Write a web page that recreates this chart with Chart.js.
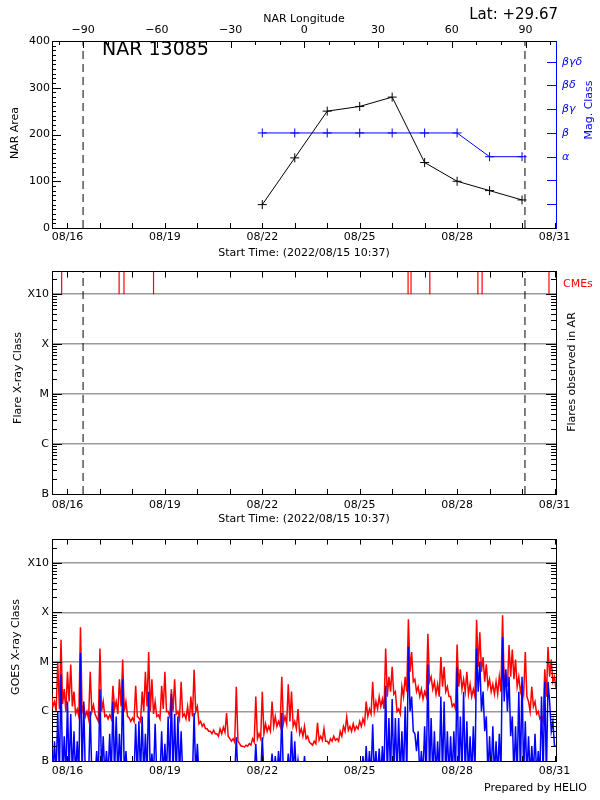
<!DOCTYPE html>
<html>
<head>
<meta charset="utf-8">
<script src="https://cdn.jsdelivr.net/npm/chart.js@4.4.1/dist/chart.umd.min.js"></script>
<style>
  body { margin: 0; background: #fff; }
  #wrap { position: relative; width: 600px; height: 800px; background: #fff; }
  canvas { position: absolute; left: 0; }
</style>
</head>
<body>
<div id="wrap">
  <canvas id="narChart" width="600" height="262" style="top:0"></canvas>
  <canvas id="flareChart" width="600" height="268" style="top:262px"></canvas>
  <canvas id="goesChart" width="600" height="270" style="top:530px"></canvas>
</div>
<script>
// time in days from 2022/08/16 00:00 UT
const tickDays = [0, 3, 6, 9, 12, 15];
const tickLabels = ['08/16', '08/19', '08/22', '08/25', '08/28', '08/31'];
const limbDays = [0.48, 14.09];
const lonTicks = [-90, -60, -30, 0, 30, 60, 90];

const narDays = [6, 7, 8, 9, 10, 11, 12, 13, 14];
const narArea = [50, 150, 250, 260, 280, 140, 100, 80, 60];
const magClass = [4, 4, 4, 4, 4, 4, 4, 3, 3];          // index into magLabels
const magLabels = ['', '', '', 'α', 'β', 'βγ', 'βδ', 'βγδ'];

const classTicks = [1e-7, 1e-6, 1e-5, 1e-4, 1e-3];
const classLabels = ['B', 'C', 'M', 'X', 'X10'];

const cmeDays = [-0.18, 1.59, 1.74, 2.65, 10.49, 10.58, 11.16, 12.64, 12.77, 14.83];

// GOES flux as decades above B level (0 = B, 1 = C, 2 = M, 3 = X)
// one slot every goesStep days from goesStart: the high value, then the low value half a slot later
const goesStart = -0.5;
const goesStep = 0.1;
const goesLongHigh = [
  1.4, 1.2, 2.0, 2.45, 1.45, 1.8, 1.95, 1.4, 1.05, 2.7,
  1.13, 1.0, 1.8, 1.13, 0.87, 2.27, 1.2, 0.93, 0.93, 1.52,
  1.2, 1.65, 2.05, 1.2, 0.87, 0.87, 1.52, 0.87, 1.4, 1.8,
  2.2, 1.65, 1.2, 0.93, 1.52, 1.8, 1.0, 1.45, 1.65, 1.0,
  1.6, 0.95, 1.1, 1.3, 1.84, 1.1, 0.8, 0.75, 0.65, 0.6,
  0.62, 0.55, 0.65, 0.68, 0.97, 0.45, 0.45, 1.5, 0.35, 0.3,
  0.32, 0.35, 0.45, 1.3, 0.55, 1.4, 0.75, 0.7, 1.2, 0.9,
  0.8, 1.7, 0.9, 1.55, 1.4, 0.8, 1.05, 0.65, 0.7,
  0.5, 0.35, 0.4, 0.77, 0.5, 0.65, 0.4, 0.45, 0.5, 0.45,
  0.6, 0.7, 0.89, 0.7, 0.75, 0.7, 0.8, 0.85, 1.2, 1.05,
  1.6, 1.2, 1.3, 1.25, 2.27, 1.7, 1.9, 1.4, 1.05, 1.5,
  1.7, 2.86, 2.2, 1.65, 1.5, 1.45, 1.4, 2.57, 1.7,
  1.6, 1.55, 2.1, 1.9, 1.5, 1.3, 1.15, 2.35, 1.85, 1.65,
  1.8, 1.55, 1.45, 2.85, 2.6, 2.1, 1.95, 1.65, 1.55, 1.6,
  1.7, 2.94, 1.75, 2.34, 2.25, 2.05, 1.7, 1.55, 2.2, 1.2,
  1.5, 1.2, 1.0, 0.9, 1.85, 2.3, 2.05, 1.7, 1.6
];
const goesLongLow = [
  1.1, 1.0, 1.05, 1.15, 1.0, 1.2, 1.1, 0.95, 0.9, 1.0,
  0.9, 0.85, 1.0, 0.95, 0.8, 1.0, 0.9, 0.85, 0.85, 1.05,
  0.95, 1.1, 1.0, 0.9, 0.8, 0.8, 0.9, 0.8, 1.0, 1.1,
  1.0, 0.95, 0.9, 0.85, 1.05, 1.0, 0.9, 1.0, 0.95, 0.85,
  0.9, 0.85, 0.8, 0.9, 1.0, 0.75, 0.7, 0.65, 0.6, 0.55,
  0.55, 0.5, 0.55, 0.58, 0.5, 0.4, 0.38, 0.4, 0.3, 0.28,
  0.3, 0.32, 0.38, 0.45, 0.45, 0.55, 0.6, 0.6, 0.7, 0.7,
  0.7, 0.75, 0.75, 0.8, 0.7, 0.65, 0.55, 0.5, 0.45,
  0.38, 0.32, 0.35, 0.42, 0.42, 0.4, 0.35, 0.4, 0.42, 0.4,
  0.5, 0.6, 0.62, 0.6, 0.62, 0.65, 0.7, 0.75, 0.9, 0.95,
  1.0, 1.05, 1.1, 1.05, 1.3, 1.4, 1.35, 1.0, 0.95, 1.3,
  1.4, 1.8, 1.6, 1.4, 1.3, 1.25, 1.3, 1.6, 1.45,
  1.35, 1.3, 1.5, 1.4, 1.3, 1.1, 1.05, 1.5, 1.45, 1.4,
  1.35, 1.3, 1.3, 1.9, 1.8, 1.6, 1.5, 1.4, 1.35, 1.35,
  1.4, 1.6, 1.5, 1.7, 1.65, 1.5, 1.4, 1.35, 1.3, 1.0,
  1.1, 0.95, 0.85, 0.8, 1.3, 1.7, 1.6, 1.45, 1.4
];
const goesShortHigh = [
  0.45, 0.4, 1.0, 1.75, 0.5, 1.2, 0.95, 0.6, 0.4, 2.18,
  1.2, -0.3, 1.0, -0.3, 0.2, 1.45, 0.5, 0.2, 0.55, 1.2,
  0.9, 0.55, 1.65, 0.2, -0.3, -0.3, 0.75, 0.8, 0.9, 0.55,
  1.4, 0.15, 0.75, -0.3, 0.6, 0.35, 0.9, 1.35, 0.95, 0.9,
  0.6, -0.3, -0.3, -0.3, 0.97, 0.35, -0.3, -0.3, -0.3, -0.3,
  -0.3, -0.3, -0.3, -0.3, -0.3, -0.3, -0.3, 0.48, -0.3, -0.3,
  -0.3, -0.3, -0.3, 0.35, -0.3, 0.48, -0.3, -0.3, 0.15, 0.1,
  0.2, 0.97, -0.3, 0.15, 0.6, 0.4, 0.02, -0.3, 0.1,
  -0.3, -0.3, -0.3, -0.3, -0.3, -0.3, -0.3, -0.3, -0.3, -0.3,
  -0.3, -0.3, -0.3, -0.3, -0.3, -0.3, -0.3, 0.1, 0.3, 0.2,
  0.74, 0.2, 0.25, 0.3, 1.52, 0.87, 1.25, 0.87, 0.87, 0.6,
  1.1, 2.3, 1.3, 0.55, 0.6, 0.2, 0.7, 1.95, 0.87,
  0.6, 0.4, 1.3, 1.2, 0.6, 0.5, 0.6, 1.9, 0.9, 1.4,
  0.8, 0.5, 0.7, 2.27, 2.0, 1.4, 0.9, 0.5, 0.7, 0.4,
  0.55, 2.5, 1.85, 1.7, 0.9, 0.7, 1.4, 1.7, 0.8, 0.5,
  0.3, 0.55, 0.2, 1.3, 1.6, 1.6, 0.6, 0.3, 0.1
];
const goesShortLow = [
  -0.3, -0.3, -0.3, -0.3, -0.3, -0.3, -0.3, -0.3, -0.3, -0.3,
  -0.3, -0.3, -0.3, -0.3, -0.3, -0.3, -0.3, -0.3, -0.3, -0.3,
  -0.3, -0.3, -0.3, -0.3, -0.3, -0.3, -0.3, -0.3, -0.3, -0.3,
  -0.3, -0.3, -0.3, -0.3, -0.3, -0.3, -0.3, -0.3, -0.3, -0.3,
  -0.3, -0.3, -0.3, -0.3, -0.3, -0.3, -0.3, -0.3, -0.3, -0.3,
  -0.3, -0.3, -0.3, -0.3, -0.3, -0.3, -0.3, -0.3, -0.3, -0.3,
  -0.3, -0.3, -0.3, -0.3, -0.3, -0.3, -0.3, -0.3, -0.3, -0.3,
  -0.3, -0.3, -0.3, -0.3, -0.3, -0.3, -0.3, -0.3, -0.3,
  -0.3, -0.3, -0.3, -0.3, -0.3, -0.3, -0.3, -0.3, -0.3, -0.3,
  -0.3, -0.3, -0.3, -0.3, -0.3, -0.3, -0.3, -0.3, -0.3, -0.3,
  -0.3, -0.3, -0.3, -0.3, -0.3, -0.3, -0.3, -0.3, -0.3, -0.3,
  -0.3, 1.0, 0.6, 0.2, -0.3, -0.3, -0.3, -0.3, -0.3,
  -0.3, -0.3, -0.3, -0.3, -0.3, -0.3, -0.3, -0.3, -0.3, -0.3,
  -0.3, -0.3, -0.3, 1.4, 1.0, 0.6, -0.3, -0.3, -0.3, -0.3,
  -0.3, 1.2, 1.0, 0.5, -0.3, -0.3, -0.3, -0.3, -0.3, -0.3,
  -0.3, -0.3, -0.3, -0.3, -0.3, 1.2, 0.8, 0.3, 0.0
];

const X_MIN = -0.477, X_MAX = 15.046;
const LON_MIN = -102.7, LON_MAX = 102.4;
const FLARE_MAX = 2.825e-3, GOES_MAX = 2.95e-3;
const FONT = '"DejaVu Sans"';

Chart.defaults.font.family = FONT;
Chart.defaults.font.size = 11;
Chart.defaults.color = '#000';

const baseOpts = {
  responsive: false,
  animation: false,
  devicePixelRatio: 1,
  events: [],
  layout: { padding: 0 },
  plugins: { legend: { display: false }, tooltip: { enabled: false } }
};

function timeAxis(height, pad) {
  return {
    type: 'linear', position: 'bottom', min: X_MIN, max: X_MAX,
    afterBuildTicks: s => { s.ticks = tickDays.map(v => ({ value: v })); },
    ticks: { callback: v => tickLabels[tickDays.indexOf(v)], padding: pad, maxRotation: 0, autoSkip: false },
    grid: { display: false, drawTicks: false },
    border: { color: '#000', width: 1 },
    afterFit: s => { s.height = height; }
  };
}
function topEdge(height) {
  return {
    type: 'linear', position: 'top', min: X_MIN, max: X_MAX,
    ticks: { display: false }, grid: { display: false, drawTicks: false },
    border: { color: '#000', width: 1 },
    afterFit: s => { s.height = height; }
  };
}
function classAxis(max) {
  return {
    type: 'logarithmic', position: 'left', min: 1e-7, max: max,
    afterBuildTicks: s => { s.ticks = classTicks.map(v => ({ value: v })); },
    ticks: { callback: v => classLabels[classTicks.indexOf(v)], padding: 3, autoSkip: false },
    grid: {
      drawTicks: false, lineWidth: 1.5,
      color: c => (c.tick && c.tick.value > 2e-7) ? '#9a9a9a' : 'rgba(0,0,0,0)'
    },
    border: { color: '#000', width: 1 },
    afterFit: s => { s.width = 52; }
  };
}
function rightEdge(type, max, color) {
  return {
    type: type, position: 'right', min: type === 'logarithmic' ? 1e-7 : 0, max: max,
    ticks: { display: false }, grid: { display: false, drawTicks: false },
    border: { color: color, width: 1 },
    afterFit: s => { s.width = 44; }
  };
}

function ticksX(ctx, scale, values, y, len) {
  ctx.beginPath();
  values.forEach(v => {
    const px = Math.round(scale.getPixelForValue(v)) + 0.5;
    ctx.moveTo(px, y); ctx.lineTo(px, y + len);
  });
  ctx.stroke();
}
function ticksY(ctx, scale, values, x, len) {
  ctx.beginPath();
  values.forEach(v => {
    const py = Math.round(scale.getPixelForValue(v)) + 0.5;
    ctx.moveTo(x, py); ctx.lineTo(x + len, py);
  });
  ctx.stroke();
}
function text(ctx, str, x, y, size, color, align, rotate) {
  ctx.save();
  ctx.font = size + 'px ' + FONT;
  ctx.fillStyle = color;
  ctx.textAlign = align;
  ctx.textBaseline = 'middle';
  ctx.translate(x, y);
  if (rotate) ctx.rotate(-Math.PI / 2);
  ctx.fillText(str, 0, 0);
  ctx.restore();
}

const dailyTicks = [];
for (let d = 0; d <= 15; d++) dailyTicks.push(d);
const lonMinor = [];
for (let l = -100; l <= 100; l += 10) if (l % 30) lonMinor.push(l);
function logTicks(max) {
  const major = [], minor = [];
  for (let e = -7; e <= -3; e++) {
    major.push(Math.pow(10, e));
    for (let m = 2; m <= 9; m++) {
      const v = m * Math.pow(10, e);
      if (v < max) minor.push(v);
    }
  }
  return { major, minor };
}

function dataXY(xs, ys) { return xs.map((x, i) => ({ x: x, y: ys[i] })); }
function vline(d, y0, y1, axis) {
  return {
    data: [{ x: d, y: y0 }, { x: d, y: y1 }], showLine: true, yAxisID: axis,
    borderColor: '#000', borderWidth: 1, borderDash: [8, 5], pointRadius: 0
  };
}

// ---------- panel 1: NAR area and magnetic class ----------
const narDecor = {
  id: 'narDecor',
  afterDraw(chart) {
    const { ctx, chartArea: a, scales } = chart;
    ctx.save();
    ctx.lineWidth = 1;
    ctx.strokeStyle = '#000';
    ticksX(ctx, scales.x, dailyTicks, a.bottom, -5);
    ticksX(ctx, scales.x2, lonTicks, a.top, 7);
    ticksX(ctx, scales.x2, lonMinor, a.top, 4);
    const yMajor = [0, 100, 200, 300, 400], yMinor = [];
    for (let v = 10; v < 400; v += 10) if (v % 100) yMinor.push(v);
    ticksY(ctx, scales.y, yMajor, a.left, 9);
    ticksY(ctx, scales.y, yMinor, a.left, 4);
    ctx.strokeStyle = '#0000ff';
    ticksY(ctx, scales.y2, [1, 2, 3, 4, 5, 6, 7], a.right, -9);
    ctx.restore();

    text(ctx, 'NAR Longitude', 304, 19, 11, '#000', 'center');
    text(ctx, 'Lat: +29.67', 558, 15, 15, '#000', 'right');
    text(ctx, 'NAR 13085', 102, 50, 19, '#000', 'left');
    text(ctx, 'NAR Area', 15, 133, 11, '#000', 'center', true);
    text(ctx, 'Mag. Class', 589, 110, 11, '#0000ff', 'center', true);
    text(ctx, 'Start Time: (2022/08/15 10:37)', 304, 253, 11, '#000', 'center');
  }
};

new Chart(document.getElementById('narChart'), {
  type: 'scatter',
  data: {
    datasets: [
      {
        data: dataXY(narDays, narArea), showLine: true, yAxisID: 'y',
        borderColor: '#000', borderWidth: 1,
        pointStyle: 'cross', pointRadius: 4.5, pointBorderColor: '#000', pointBorderWidth: 1
      },
      {
        data: dataXY(narDays, magClass), showLine: true, yAxisID: 'y2',
        borderColor: '#0000ff', borderWidth: 1,
        pointStyle: 'cross', pointRadius: 4.5, pointBorderColor: '#0000ff', pointBorderWidth: 1
      },
      ...limbDays.map(d => vline(d, 0, 400, 'y'))
    ]
  },
  options: {
    ...baseOpts,
    scales: {
      x: timeAxis(34, 3),
      x2: {
        type: 'linear', position: 'top', min: LON_MIN, max: LON_MAX,
        afterBuildTicks: s => { s.ticks = lonTicks.map(v => ({ value: v })); },
        ticks: { callback: v => String(v).replace('-', '\u2212'), padding: 4, maxRotation: 0, autoSkip: false },
        grid: { display: false, drawTicks: false },
        border: { color: '#000', width: 1 },
        afterFit: s => { s.height = 41; }
      },
      y: {
        type: 'linear', position: 'left', min: 0, max: 400,
        ticks: { stepSize: 100, padding: 2 },
        grid: { display: false, drawTicks: false },
        border: { color: '#000', width: 1 },
        afterFit: s => { s.width = 52; }
      },
      y2: {
        type: 'linear', position: 'right', min: 0, max: 7.87,
        afterBuildTicks: s => { s.ticks = [1, 2, 3, 4, 5, 6, 7].map(v => ({ value: v })); },
        ticks: { callback: v => magLabels[v], color: '#0000ff', padding: 6, font: { style: 'italic', size: 11 } },
        grid: { display: false, drawTicks: false },
        border: { color: '#0000ff', width: 1 },
        afterFit: s => { s.width = 44; }
      }
    }
  },
  plugins: [narDecor]
});

// ---------- panel 2: flares and CMEs ----------
const flareTicks = logTicks(FLARE_MAX);
const flareDecor = {
  id: 'flareDecor',
  afterDraw(chart) {
    const { ctx, chartArea: a, scales } = chart;
    ctx.save();
    ctx.lineWidth = 1;
    ctx.strokeStyle = '#000';
    ticksX(ctx, scales.x, dailyTicks, a.bottom, -5);
    ticksX(ctx, scales.x, dailyTicks, a.top, 6);
    ticksY(ctx, scales.y, flareTicks.major, a.left, 10);
    ticksY(ctx, scales.y, flareTicks.minor, a.left, 5);
    ticksY(ctx, scales.y, flareTicks.major, a.right, -10);
    ticksY(ctx, scales.y, flareTicks.minor, a.right, -5);
    ctx.restore();

    text(ctx, 'CMEs', 563, 22, 11, '#ff0000', 'left');
    text(ctx, 'Flare X-ray Class', 18, 116, 11, '#000', 'center', true);
    text(ctx, 'Flares observed in AR', 572, 110, 11, '#000', 'center', true);
    text(ctx, 'Start Time: (2022/08/15 10:37)', 304, 257, 11, '#000', 'center');
  }
};

const cmeData = [];
cmeDays.forEach(d => {
  cmeData.push({ x: d, y: FLARE_MAX }, { x: d, y: 1e-3 }, { x: d, y: null });
});

new Chart(document.getElementById('flareChart'), {
  type: 'scatter',
  data: {
    datasets: [
      {
        data: cmeData, showLine: true, spanGaps: false, yAxisID: 'y',
        borderColor: '#ff0000', borderWidth: 1.2, pointRadius: 0
      },
      ...limbDays.map(d => vline(d, 1e-7, FLARE_MAX, 'y'))
    ]
  },
  options: {
    ...baseOpts,
    scales: {
      x: timeAxis(36, 5),
      x2: topEdge(5),
      y: classAxis(FLARE_MAX),
      y2: rightEdge('logarithmic', FLARE_MAX, '#000')
    }
  },
  plugins: [flareDecor]
});

// ---------- panel 3: GOES X-ray flux ----------
const goesTicks = logTicks(GOES_MAX);
const goesDecor = {
  id: 'goesDecor',
  afterDraw(chart) {
    const { ctx, chartArea: a, scales } = chart;
    ctx.save();
    ctx.lineWidth = 1;
    ctx.strokeStyle = '#000';
    ticksX(ctx, scales.x, dailyTicks, a.bottom, -5);
    ticksX(ctx, scales.x, dailyTicks, a.top, 5);
    ticksY(ctx, scales.y, goesTicks.major, a.left, 10);
    ticksY(ctx, scales.y, goesTicks.minor, a.left, 5);
    ticksY(ctx, scales.y, goesTicks.major, a.right, -10);
    ticksY(ctx, scales.y, goesTicks.minor, a.right, -5);
    ctx.restore();

    text(ctx, 'GOES X-ray Class', 16, 117, 11, '#000', 'center', true);
    text(ctx, 'Prepared by HELIO', 587, 258, 11, '#000', 'right');
  }
};

function goesSeries(high, low) {
  const pts = [];
  high.forEach((v, i) => {
    pts.push({ x: goesStart + i * goesStep, y: Math.pow(10, v - 7) });
    pts.push({ x: goesStart + (i + 0.5) * goesStep, y: Math.pow(10, low[i] - 7) });
  });
  return pts;
}

new Chart(document.getElementById('goesChart'), {
  type: 'scatter',
  data: {
    datasets: [
      {
        data: goesSeries(goesShortHigh, goesShortLow), showLine: true, yAxisID: 'y',
        borderColor: '#0000ff', borderWidth: 1.5, pointRadius: 0
      },
      {
        data: goesSeries(goesLongHigh, goesLongLow), showLine: true, yAxisID: 'y',
        borderColor: '#ff0000', borderWidth: 1.5, pointRadius: 0
      }
    ]
  },
  options: {
    ...baseOpts,
    scales: {
      x: timeAxis(39, 4),
      x2: topEdge(3),
      y: classAxis(GOES_MAX),
      y2: rightEdge('logarithmic', GOES_MAX, '#000')
    }
  },
  plugins: [goesDecor]
});
</script>
</body>
</html>
